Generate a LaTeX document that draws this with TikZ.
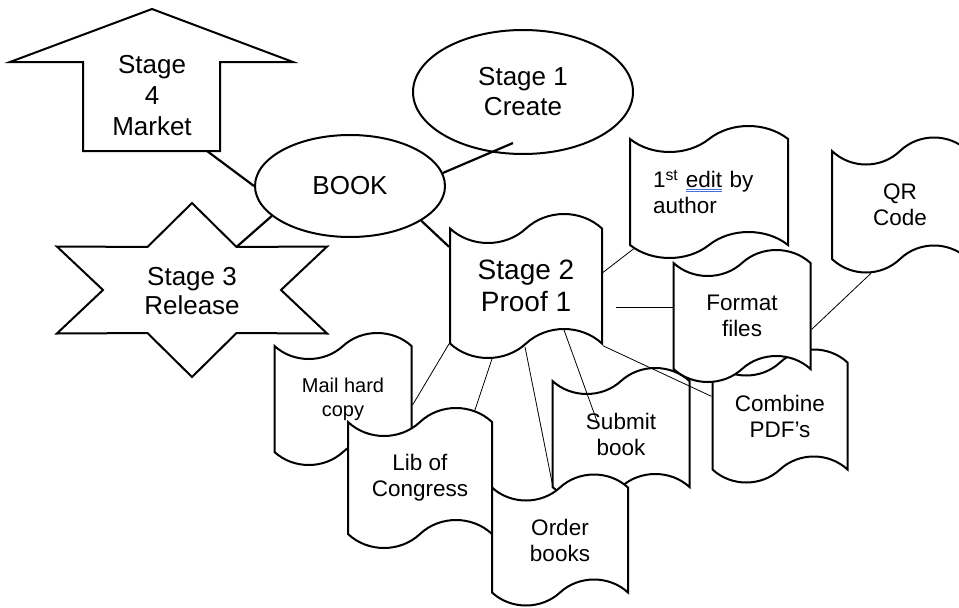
\documentclass[tikz,border=0pt]{standalone}
\usepackage{fontspec}
\setmainfont{Liberation Sans}
\usetikzlibrary{shapes.geometric,shapes.symbols,calc}
\definecolor{markblue}{RGB}{70,110,215}
\newcommand{\gramedit}[1]{\setbox0=\hbox{#1}\rlap{\textcolor{markblue}{\rule[-1.8pt]{\wd0}{0.7pt}}}\rlap{\textcolor{markblue}{\rule[-4.2pt]{\wd0}{0.7pt}}}#1}
\begin{document}
\begin{tikzpicture}[x=1pt, y=-1pt,
  shapeline/.style={draw=black, line width=2pt, fill=white},
  oval/.style={ellipse, shapeline, inner sep=0pt, align=center, font=\fontsize{26}{30}\selectfont},
  tapebox/.style={tape, shapeline, tape bend top=in and out, tape bend bottom=in and out, tape bend height=26pt, minimum width=137pt, minimum height=132pt, inner sep=0pt, align=center, font=\fontsize{22.5}{26}\selectfont},
  stagetext/.style={align=center, inner sep=0pt, font=\fontsize{26}{31}\selectfont},
  wire/.style={line width=0.8pt},
  thickwire/.style={line width=2.2pt}]
\useasboundingbox (0,0) rectangle (959,608);
% stage 4 arrow
\draw[shapeline] (10,62) -- (152,9) -- (293,62) -- (220,62) -- (220,151) -- (83,151) -- (83,62) -- cycle;
\coordinate (mktfoot) at (207,151);
\node[stagetext] (mkt) at (152,96) {Stage\\4\\Market};
% stage 3 star
\draw[shapeline] (192,203) \foreach \a in {-90,-30,...,210} { -- ({192+89*cos(\a+30)},{290+49.7*sin(\a+30)}) -- ({192+156*cos(\a+60)},{290+87*sin(\a+60)}) } -- cycle;
\coordinate (relnotch) at ({192+89*cos(-60)},{290+49.7*sin(-60)});
\node[stagetext, font=\fontsize{26}{29}\selectfont] (rel) at (192,291) {Stage 3\\Release};
% ovals
\node[oval, minimum width=220pt, minimum height=124pt] (crt) at (523,92) {Stage 1\\Create};
\node[oval, minimum width=190pt, minimum height=102pt] (book) at (350,186) {BOOK};
% tapes
\node[tapebox, minimum width=152pt, minimum height=144pt, tape bend height=29pt, font=\fontsize{28}{32}\selectfont] (prf) at (526,286) {Stage 2\\Proof 1};
\node[tapebox, minimum width=158pt, text width=112pt, align=left] (edit) at (709,192) {1\textsuperscript{st} \gramedit{edit} by\\author};
\node[tapebox, minimum width=136pt, minimum height=135pt, tape bend height=27pt] (qr) at (900,205) {QR\\Code};
\node[tapebox, font=\fontsize{20}{24}\selectfont] (mail) at (343,399) {Mail hard\\copy};
\node[tapebox, minimum width=144pt, minimum height=140pt, tape bend height=28pt] (loc) at (420,478) {Lib of\\Congress};
\node[tapebox] (sub) at (621,434) {Submit\\book};
\node[tapebox, minimum width=136pt, minimum height=131pt] (ord) at (560,540) {Order\\books};
\node[tapebox, minimum width=135pt, minimum height=133pt] (cmb) at (780,416) {Combine\\PDF’s};
\node[tapebox] (fmt) at (742,316) {Format\\files};
% connectors
\draw[thickwire] (mktfoot) -- (book.west);
\draw[thickwire] (relnotch) -- (book.201);
\draw[thickwire] (book.8) -- ($(crt.center)+(-10,51)$);
\draw[thickwire] (book.-26) -- (prf.153);
\draw[wire] (prf.10) -- (edit.217);
\draw[wire] ($(prf.east)+(13,21)$) -- ($(fmt.west)+(0,-9)$);
\draw[wire] (fmt.-11) -- (qr.-113);
\draw[wire] (prf.south west) -- (mail.-5);
\draw[wire] (prf.-115) -- (loc.51);
\draw[wire] ($(prf.south)+(-1,2)$) -- ($(ord.north)+(-7,1)$);
\draw[wire] (prf.-58) -- ($(sub.center)+(-23,-10)$);
\draw[wire] (prf.south east) -- (cmb.164);
\end{tikzpicture}
\end{document}
